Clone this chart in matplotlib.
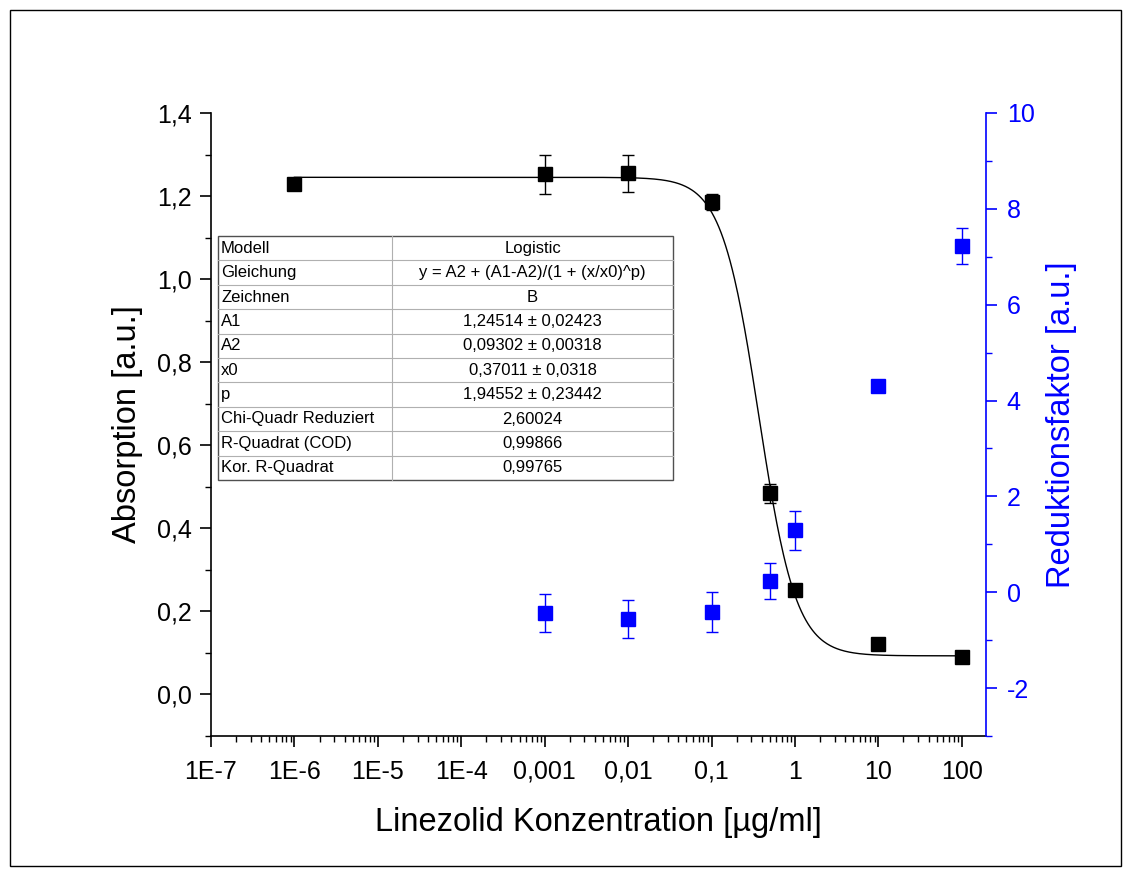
import numpy as np
import matplotlib
matplotlib.use("Agg")
import matplotlib.pyplot as plt
from matplotlib.ticker import FixedLocator, NullFormatter, LogLocator
from matplotlib.patches import Rectangle
from matplotlib.lines import Line2D

plt.rcParams['font.family'] = ['Liberation Sans', 'DejaVu Sans']

# ---- data ----
conc = [1e-6, 1e-3, 1e-2, 1e-1, 0.5, 1, 10, 100]
absorption = [1.230, 1.252, 1.255, 1.186, 0.484, 0.251, 0.122, 0.090]
absorption_err = [0.012, 0.046, 0.045, 0.020, 0.022, 0.012, 0.006, 0.006]

conc_red = [1e-3, 1e-2, 1e-1, 0.5, 1, 10, 100]
reduktion = [-0.43, -0.56, -0.42, 0.23, 1.29, 4.30, 7.22]
reduktion_err = [0.39, 0.39, 0.42, 0.37, 0.41, 0.0, 0.38]

# fit parameters (Logistic)
A1, A2, x0, p = 1.24514, 0.09302, 0.37011, 1.94552

x_ticks = [1e-7, 1e-6, 1e-5, 1e-4, 1e-3, 1e-2, 1e-1, 1, 10, 100]
x_ticklabels = ["1E-7", "1E-6", "1E-5", "1E-4", "0,001", "0,01", "0,1", "1", "10", "100"]
y_ticks = [0.0, 0.2, 0.4, 0.6, 0.8, 1.0, 1.2, 1.4]
y_ticklabels = ["0,0", "0,2", "0,4", "0,6", "0,8", "1,0", "1,2", "1,4"]
y2_ticks = [-2, 0, 2, 4, 6, 8, 10]
y2_ticklabels = ["-2", "0", "2", "4", "6", "8", "10"]

table_rows = [
    ("Modell", "Logistic"),
    ("Gleichung", "y = A2 + (A1-A2)/(1 + (x/x0)^p)"),
    ("Zeichnen", "B"),
    ("A1", "1,24514 \u00b1 0,02423"),
    ("A2", "0,09302 \u00b1 0,00318"),
    ("x0", "0,37011 \u00b1 0,0318"),
    ("p", "1,94552 \u00b1 0,23442"),
    ("Chi-Quadr Reduziert", "2,60024"),
    ("R-Quadrat (COD)", "0,99866"),
    ("Kor. R-Quadrat", "0,99765"),
]

BLUE = (0, 0, 1)
W, H = 1131, 876
fig = plt.figure(figsize=(W / 100, H / 100), dpi=100)
ax = fig.add_axes([211 / W, 1 - 736 / H, (986 - 211) / W, (736 - 113) / H])
ax2 = ax.twinx()

# fit curve
xf = np.logspace(-6, 2, 600)
yf = A2 + (A1 - A2) / (1 + (xf / x0) ** p)
ax.plot(xf, yf, color='black', lw=1.0, zorder=2)

ax.errorbar(conc, absorption, yerr=absorption_err, fmt='s', color='black',
            ms=10.5, capsize=4.3, elinewidth=1.0, capthick=1.0, zorder=3)
ax2.errorbar(conc_red, reduktion, yerr=reduktion_err, fmt='s', color=BLUE,
             ms=10.5, capsize=4.3, elinewidth=1.0, capthick=1.0, zorder=3)

ax.set_xscale('log')
ax.set_xlim(1e-7, 195)
ax.set_ylim(-0.1, 1.4)
ax2.set_ylim(-3, 10)

ax.xaxis.set_major_locator(FixedLocator(x_ticks))
ax.set_xticklabels(x_ticklabels)
ax.xaxis.set_minor_locator(LogLocator(base=10, subs=np.arange(2, 10), numticks=20))
ax.xaxis.set_minor_formatter(NullFormatter())

ax.set_yticks(y_ticks)
ax.set_yticklabels(y_ticklabels)
ax.set_yticks(np.arange(-0.1, 1.41, 0.2), minor=True)
ax2.set_yticks(y2_ticks)
ax2.set_yticklabels(y2_ticklabels)
ax2.set_yticks(np.arange(-3, 10, 2), minor=True)

for a in (ax, ax2):
    a.spines['top'].set_visible(False)
    for s in a.spines.values():
        s.set_linewidth(1.2)
ax.spines['right'].set_visible(False)
ax2.spines['left'].set_visible(False)
ax2.spines['bottom'].set_visible(False)
ax2.spines['right'].set_color(BLUE)

ax.tick_params(axis='both', which='major', direction='out', length=8, width=1.2,
               labelsize=18, pad=6)
ax.tick_params(axis='both', which='minor', direction='out', length=4, width=1.0)
ax.tick_params(axis='x', which='major', pad=9)
ax2.tick_params(axis='y', which='major', direction='out', length=8, width=1.2,
                labelsize=18, pad=7, colors=BLUE)
ax2.tick_params(axis='y', which='minor', direction='out', length=4, width=1.0,
                colors=BLUE)

ax.set_xlabel("Linezolid Konzentration [\u00b5g/ml]", fontsize=23.5, labelpad=17)
ax.set_ylabel("Absorption [a.u.]", fontsize=23.5, labelpad=10)
ax2.set_ylabel("Reduktionsfaktor [a.u.]", fontsize=23.5, color=BLUE, labelpad=8)

# ---- fit results table ----
tl, tr, tt, tb, tmid = 218, 673, 236, 480, 392
rh = (tb - tt) / len(table_rows)
def fx(px):
    return px / W
def fy(py):
    return 1 - py / H
for i in range(1, len(table_rows)):
    y = tt + i * rh
    fig.add_artist(Line2D([fx(tl), fx(tr)], [fy(y), fy(y)], color='#b0b0b0', lw=0.8))
fig.add_artist(Line2D([fx(tmid), fx(tmid)], [fy(tt), fy(tb)], color='#b0b0b0', lw=0.8))
fig.add_artist(Rectangle((fx(tl), fy(tb)), fx(tr - tl), (tb - tt) / H, fill=False,
                         edgecolor='#505050', lw=1.0))
for i, (k, v) in enumerate(table_rows):
    yc = fy(tt + (i + 0.5) * rh)
    fig.text(fx(tl + 3), yc, k, fontsize=12, va='center', ha='left')
    fig.text(fx((tmid + tr) / 2), yc, v, fontsize=12, va='center', ha='center')

# outer frame
fig.add_artist(Rectangle((fx(10), fy(866)), fx(1121 - 10), (866 - 10) / H, fill=False,
                         edgecolor='black', lw=1.0))

fig.savefig("out.png", dpi=100)
